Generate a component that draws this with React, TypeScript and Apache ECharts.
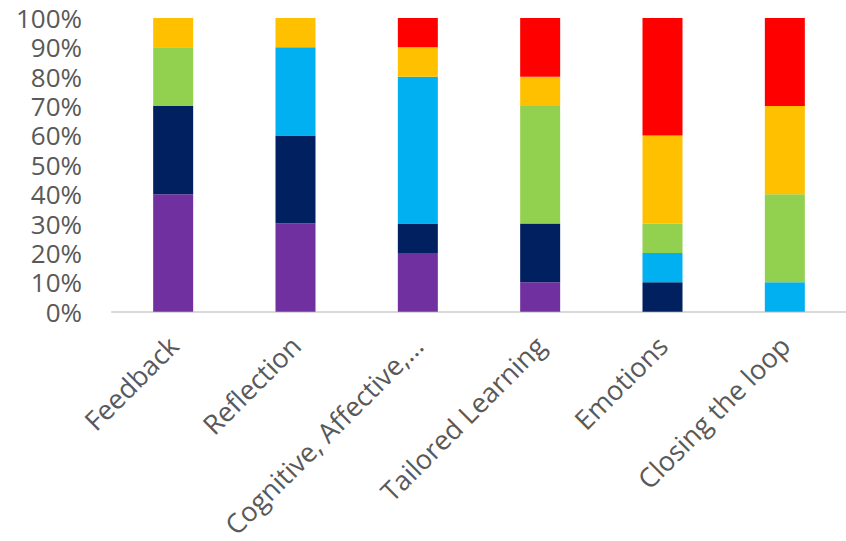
import React, { useEffect, useRef } from "react";
import * as echarts from "echarts";

const categories = ["Feedback", "Reflection", "Cognitive, Affective,…", "Tailored Learning", "Emotions", "Closing the loop"];
const purple = [40, 30, 20, 10, 0, 0];
const navy = [30, 30, 10, 20, 10, 0];
const lightBlue = [0, 30, 50, 0, 10, 10];
const green = [20, 0, 0, 40, 10, 30];
const yellow = [10, 10, 10, 10, 30, 30];
const red = [0, 0, 10, 20, 40, 30];
const yTicks = [0, 10, 20, 30, 40, 50, 60, 70, 80, 90, 100];

const seriesDefs = [
  { name: "S1", data: purple, color: "#7030A0" },
  { name: "S2", data: navy, color: "#002060" },
  { name: "S3", data: lightBlue, color: "#00B0F0" },
  { name: "S4", data: green, color: "#92D050" },
  { name: "S5", data: yellow, color: "#FFC000" },
  { name: "S6", data: red, color: "#FF0000" },
];

export default function App() {
  const ref = useRef<HTMLDivElement>(null);
  useEffect(() => {
    if (!ref.current) return;
    const chart = echarts.init(ref.current, null, { renderer: "svg" });
    chart.setOption({
      animation: false,
      grid: { left: 112, top: 18, width: 745, bottom: 227, containLabel: false },
      xAxis: {
        type: "category",
        data: categories,
        axisLine: { show: true, lineStyle: { color: "#D9D9D9", width: 2 } },
        axisTick: { show: false },
        axisLabel: {
          rotate: 45,
          interval: 0,
          color: "#595959",
          fontSize: 27,
          fontFamily: "Open Sans",
          margin: 29,
        },
      },
      yAxis: {
        type: "value",
        min: 0,
        max: yTicks[yTicks.length - 1],
        interval: 10,
        splitLine: { show: false },
        axisLine: { show: false },
        axisTick: { show: false },
        axisLabel: {
          color: "#595959",
          fontSize: 26,
          lineHeight: 26,
          fontFamily: "Open Sans",
          margin: 30,
          formatter: (v: number) => v + "%",
        },
      },
      series: seriesDefs.map((s) => ({
        name: s.name,
        type: "bar",
        stack: "total",
        barWidth: 40,
        data: s.data,
        itemStyle: { color: s.color },
      })),
    });
    return () => chart.dispose();
  }, []);
  return <div ref={ref} style={{ position: "absolute", left: 0, top: 0, width: 846, height: 541 }} />;
}
